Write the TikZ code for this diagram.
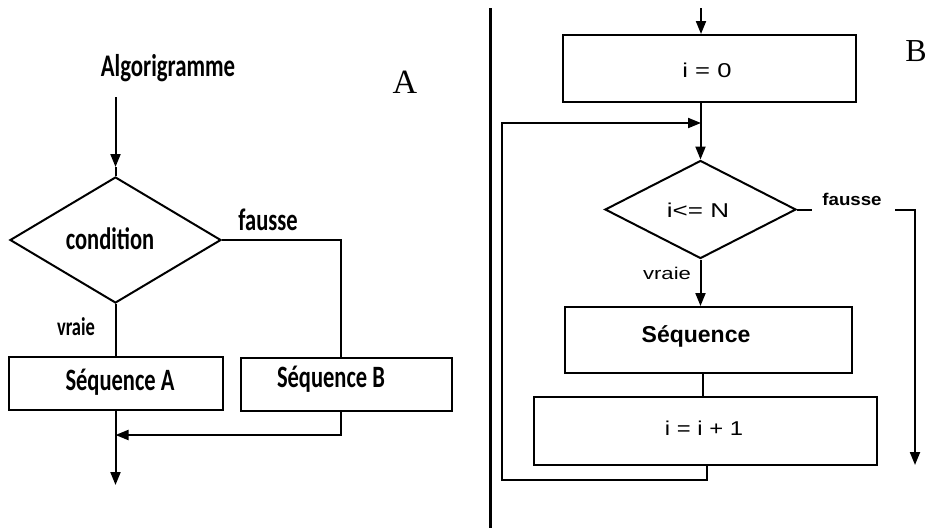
\documentclass[tikz,border=0pt]{standalone}
\usepackage{fontspec}
\usepackage{graphicx}
\setmainfont{Carlito}
\newfontfamily\rfont{Liberation Sans}
\newfontfamily\serifA{Liberation Serif}
\usetikzlibrary{arrows.meta,shapes.geometric}
\newcommand\stretchtxt[2][1.25]{\scalebox{#1}[1]{#2}}
\newcommand\talltxt[1]{\scalebox{1}[1.38]{#1}}
\begin{document}
\begin{tikzpicture}[x=1pt,y=-1pt,
  line width=2pt,
  arr/.style={-{Triangle[length=13pt,width=10pt]}},
  boxnode/.style={draw,rectangle,inner sep=0pt},
  dnode/.style={draw,diamond,inner sep=0pt},
  lbl/.style={inner sep=0pt},
  ltxt/.style={lbl,font=\bfseries\fontsize{22.5}{24}\selectfont},
  rtxt/.style={lbl,font=\rfont\fontsize{20}{20}\selectfont}]
\useasboundingbox (0,0) rectangle (934,528);

% ---------- A ----------
\node[lbl,font=\bfseries\fontsize{22.8}{24}\selectfont] (alg) at (168,68.5) {\talltxt{Algorigramme}};
\node[lbl,font=\serifA\fontsize{34}{34}\selectfont] (labA) at (405,82) {A};
\node[dnode,minimum width=211pt,minimum height=126pt] (d1) at (115.5,240) {};
\node[ltxt] (cond) at (110,238.5) {\talltxt{condition}};
\coordinate (a0) at (115.5,97);
\coordinate (a1) at (115.5,167);
\draw[arr] (a0) -- (a1);
\draw (a1) -- (d1.north);

\node[boxnode,minimum width=214pt,minimum height=53pt] (sa) at (115.5,383.5) {};
\node[ltxt] (tsa) at (120,382.5) {\talltxt{Séquence A}};
\node[boxnode,minimum width=211pt,minimum height=53pt] (sb) at (346.5,384.5) {};
\node[ltxt] (tsb) at (331,379) {\talltxt{Séquence B}};

\coordinate (fc) at (341,240);
\coordinate (sbtop) at (341,358);
\draw (d1.east) -- (fc) -- (sbtop);
\node[ltxt] (fa) at (268,220) {\talltxt{fausse}};
\draw (d1.south) -- (sa.north);
\node[lbl,font=\bfseries\fontsize{18.5}{19}\selectfont] (va) at (76,327) {\talltxt{vraie}};

\coordinate (sbbot) at (341,411);
\coordinate (bk) at (341,435);
\coordinate (jn) at (115.5,435);
\draw[arr] (sbbot) -- (bk) -- (jn);
\coordinate (outA) at (115.5,485);
\draw[arr] (sa.south) -- (outA);

% ---------- divider ----------
\coordinate (dv0) at (490,8);
\coordinate (dv1) at (490,528);
\draw[line width=3pt] (dv0) -- (dv1);

% ---------- B ----------
\node[lbl,font=\serifA\fontsize{32}{32}\selectfont] (labB) at (916,51) {B};
\coordinate (top) at (701,8);
\node[boxnode,minimum width=293pt,minimum height=67pt] (i0) at (709.5,68.5) {};
\node[rtxt] (ti0) at (707,70) {\stretchtxt[1.28]{i = 0}};
\draw[arr] (top) -- (top |- i0.north);

\node[dnode,minimum width=191pt,minimum height=98pt] (d2) at (700.5,209.5) {};
\node[rtxt] (td2) at (698,210) {\stretchtxt[1.3]{i<= N}};
\draw[arr] (d2.north |- i0.south) -- (d2.north);

\node[boxnode,minimum width=287pt,minimum height=66pt] (sq) at (708.5,340) {};
\node[lbl,font=\rfont\bfseries\fontsize{23}{23}\selectfont] (tsq) at (696,336) {\stretchtxt[1.0]{Séquence}};
\node[boxnode,minimum width=343pt,minimum height=68pt] (ip) at (705.5,431) {};
\node[rtxt] (tip) at (704,428) {\stretchtxt[1.19]{i = i + 1}};

\draw[arr] (d2.south) -- (d2.south |- sq.north);
\node[lbl,font=\rfont\fontsize{17}{17}\selectfont] (vb) at (667,273) {\stretchtxt[1.3]{vraie}};

\coordinate (c1) at (703,373);
\draw (c1) -- (c1 |- ip.north);

\coordinate (lp1) at (707,465);
\coordinate (lp2) at (707,480);
\coordinate (lp3) at (502,480);
\coordinate (lp4) at (502,123);
\coordinate (lp5) at (701,123);
\draw[arr] (lp1) -- (lp2) -- (lp3) -- (lp4) -- (lp5);

\coordinate (fg1) at (812,209.5);
\coordinate (fg2) at (895,209.5);
\coordinate (fr1) at (915,209.5);
\coordinate (fr2) at (915,465);
\draw (d2.east) -- (fg1);
\draw[arr] (fg2) -- (fr1) -- (fr2);
\node[lbl,font=\rfont\bfseries\fontsize{17}{17}\selectfont] (fb) at (852,199) {\stretchtxt[1.1]{fausse}};
\end{tikzpicture}
\end{document}
